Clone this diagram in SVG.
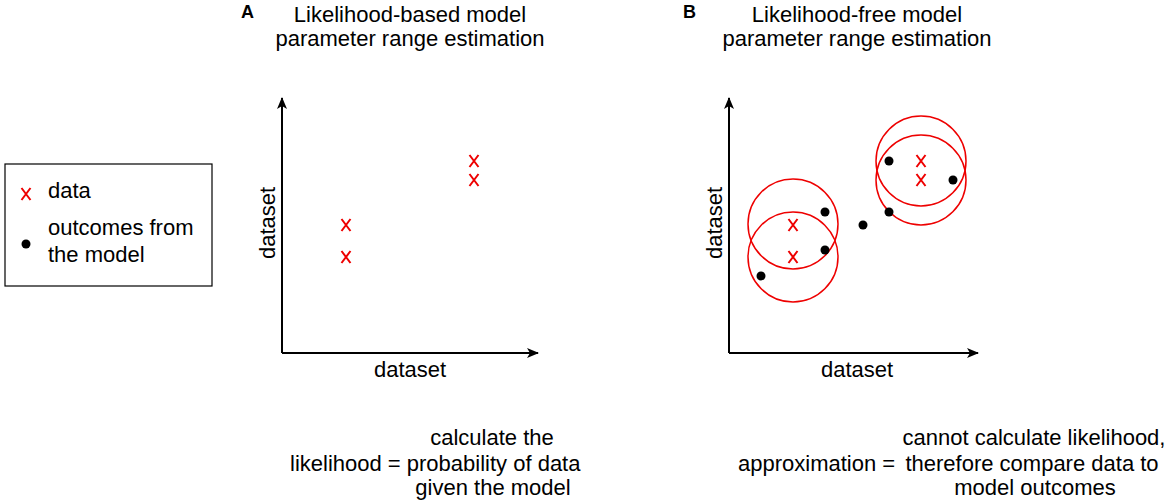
<svg xmlns="http://www.w3.org/2000/svg" width="1170" height="503" viewBox="0 0 1170 503">
<style>
text{font-family:"Liberation Sans",Arial,sans-serif;font-size:22px;fill:#000}
.c{text-anchor:middle}
.lbl{font-weight:bold;font-size:18px}
.axis{stroke:#000;stroke-width:2;fill:none}
.ring{stroke:#e00;stroke-width:1.5;fill:none}
.dot{fill:#000}
</style>
<defs>
<marker id="ah" viewBox="0 0 12 10" refX="11" refY="5" markerWidth="12" markerHeight="10" markerUnits="userSpaceOnUse" orient="auto">
<path d="M0,0 L12,5 L0,10 L3,5 Z" fill="#000"/>
</marker>
<path id="xm" d="M-4.5,-6 L4.5,6 M4.5,-6 L-4.5,6" stroke="#e00" stroke-width="2" fill="none"/>
</defs>

<g id="legend">
<rect x="5" y="164" width="207" height="122" fill="#fff" stroke="#000" stroke-width="1.2"/>
<use href="#xm" x="26" y="194"/>
<text x="48" y="198">data</text>
<circle class="dot" cx="26" cy="244" r="4.5"/>
<text x="48" y="235">outcomes from</text>
<text x="48" y="262">the model</text>
</g>

<g id="panelA">
<text class="lbl" x="241" y="18">A</text>
<text class="c" x="410" y="22">Likelihood-based model</text>
<text class="c" x="410" y="46">parameter range estimation</text>
<g id="axesA">
<line class="axis" x1="282" y1="353" x2="282" y2="98" marker-end="url(#ah)"/>
<line class="axis" x1="282" y1="353" x2="538" y2="353" marker-end="url(#ah)"/>
</g>
<text class="c" x="410" y="377">dataset</text>
<text class="c" transform="translate(275,223) rotate(-90)">dataset</text>
<use href="#xm" x="346" y="225"/>
<use href="#xm" x="346" y="257"/>
<use href="#xm" x="474" y="161"/>
<use href="#xm" x="474" y="180"/>
<text class="c" x="492" y="445">calculate the</text>
<text x="290" y="471">likelihood = probability of data</text>
<text class="c" x="493" y="495">given the model</text>
</g>

<g id="panelB">
<text class="lbl" x="683" y="18">B</text>
<text class="c" x="857" y="22">Likelihood-free model</text>
<text class="c" x="857" y="46">parameter range estimation</text>
<g id="axesB">
<line class="axis" x1="729" y1="353" x2="729" y2="98" marker-end="url(#ah)"/>
<line class="axis" x1="729" y1="353" x2="978" y2="353" marker-end="url(#ah)"/>
</g>
<text class="c" x="857" y="377">dataset</text>
<text class="c" transform="translate(722,223) rotate(-90)">dataset</text>
<circle class="ring" cx="793" cy="224" r="45"/>
<circle class="ring" cx="793" cy="257" r="45"/>
<circle class="ring" cx="921" cy="161" r="45"/>
<circle class="ring" cx="921" cy="180" r="45"/>
<use href="#xm" x="793" y="225"/>
<use href="#xm" x="793" y="257"/>
<use href="#xm" x="921" y="161"/>
<use href="#xm" x="921" y="180"/>
<circle class="dot" cx="761" cy="276" r="4.5"/>
<circle class="dot" cx="825" cy="212" r="4.5"/>
<circle class="dot" cx="825" cy="250" r="4.5"/>
<circle class="dot" cx="863" cy="225" r="4.5"/>
<circle class="dot" cx="889" cy="161" r="4.5"/>
<circle class="dot" cx="889" cy="212" r="4.5"/>
<circle class="dot" cx="953" cy="180" r="4.5"/>
<text class="c" x="1034" y="445">cannot calculate likelihood,</text>
<text x="738" y="471">approximation =</text>
<text class="c" x="1032" y="471">therefore compare data to</text>
<text class="c" x="1035" y="495">model outcomes</text>
</g>
</svg>
